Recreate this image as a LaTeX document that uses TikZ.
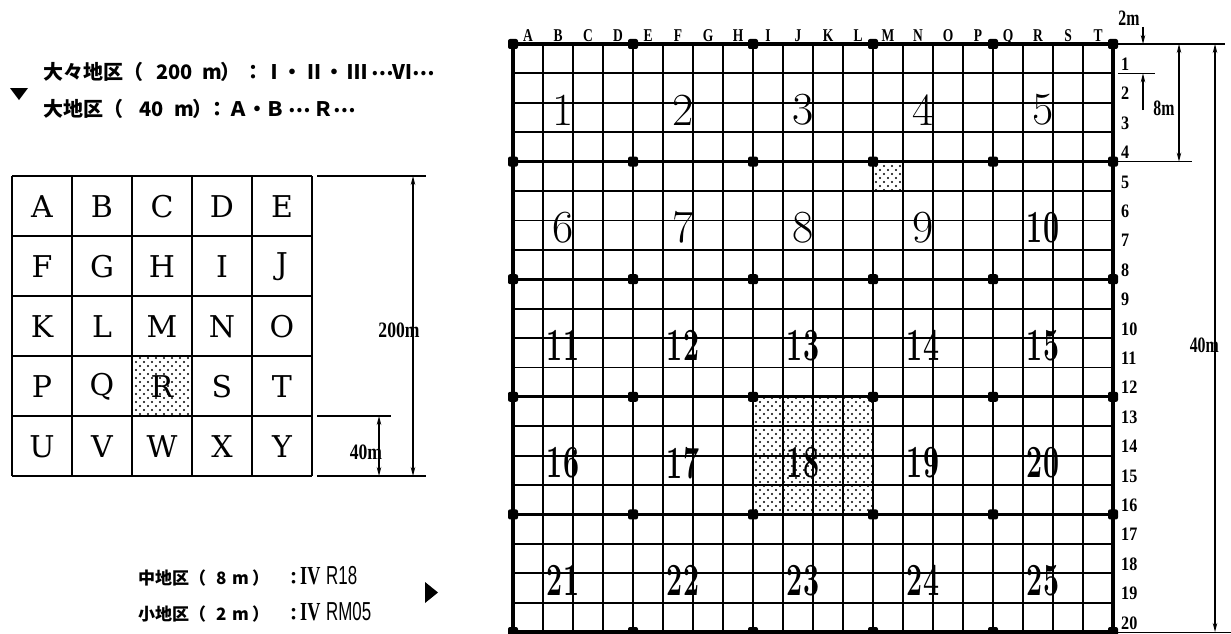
\documentclass[tikz,border=0pt]{standalone}
\usepackage{fontspec}
\usepackage{graphicx}
\newfontfamily\jp{Noto Sans CJK JP}
\newfontfamily\labf{Liberation Serif}
\newfontfamily\labs{Liberation Sans}
\newfontfamily\cent{DejaVu Serif}
\usetikzlibrary{arrows.meta,patterns.meta}
\newcommand\cnd[2][0.8]{\scalebox{#1}[1]{#2}}
\newcommand\jpdots{\makebox[12pt]{\raisebox{4pt}{…}}}
\tikzset{
 gminor/.style={line width=1.8pt},
 gmajor/.style={line width=2.8pt},
 gouter/.style={line width=4pt},
 lminor/.style={line width=2pt},
 dimline/.style={line width=1.1pt},
 dimarr/.style={dimline,{Stealth[length=9pt,width=4.5pt]}-{Stealth[length=9pt,width=4.5pt]}},
 onearr/.style={dimline,-{Stealth[length=9pt,width=4.5pt]}},
 colab/.style={inner sep=0pt,anchor=base,font=\labf\bfseries\fontsize{18}{18}\selectfont},
 rowlab/.style={inner sep=0pt,anchor=base west,font=\labf\bfseries\fontsize{19}{19}\selectfont},
 dimlab/.style={inner sep=0pt,font=\labf\bfseries\fontsize{22}{22}\selectfont},
 bignum/.style={inner sep=0pt,font=\fontsize{46}{46}\selectfont},
 bigletter/.style={inner sep=0pt,font=\cent\fontsize{30}{30}\selectfont},
 jpa/.style={inner sep=0pt,anchor=base west,font=\jp\bfseries\fontsize{20}{20}\selectfont},
 jpb/.style={inner sep=0pt,anchor=base west,font=\jp\bfseries\fontsize{17}{17}\selectfont},
 code/.style={inner sep=0pt,anchor=base west,font=\fontsize{26}{26}\selectfont},
 stipA/.style={pattern={Dots[distance=8pt,radius=1.1pt]}},
 stipB/.style={pattern={Dots[distance=8pt,radius=1.1pt,xshift=4pt,yshift=4pt]}},
 gdot/.style={fill=black,rounded corners=2pt},
}
\begin{document}
\begin{tikzpicture}[x=1pt,y=-1pt]
\useasboundingbox (0,0) rectangle (1231,634);
% ---------------- big grid -----------------
\fill[stipA] (752,396.8) rectangle (872,514.4);
\fill[stipB] (752,396.8) rectangle (872,514.4);
\fill[stipA] (873,161.6) rectangle (903,191);
\fill[stipB] (873,161.6) rectangle (903,191);
\foreach \i in {1,...,19}{
  \draw[gminor] (513+30*\i,44) -- (513+30*\i,632);
  \draw[gminor] (513,44+29.4*\i) -- (1113,44+29.4*\i);
}
\foreach \i in {1,...,4}{
  \draw[gmajor] (513+120*\i,44) -- (513+120*\i,632);
  \draw[gmajor] (513,44+117.6*\i) -- (1113,44+117.6*\i);
}
\draw[gouter] (513,44) rectangle (1113,632);
\foreach \i in {0,...,5}{
  \foreach \j in {0,...,5}{
    \fill[gdot] (513+120*\i-5,44+117.6*\j-5) rectangle (513+120*\i+5,44+117.6*\j+5);
  }
}
% column letters
\foreach \L [count=\i] in {A,B,C,D,E,F,G,H,I,J,K,L,M,N,O,P,Q,R,S,T}{
  \node[colab] (c\i) at (513+30*\i-15,42) {\cnd[0.75]{\L}};
}
% row numbers
\foreach \r in {1,...,20}{
  \node[rowlab] (r\r) at (1121,44+29.4*\r-3) {\cnd[0.85]{\r}};
}
% block numbers
\foreach \n in {1,...,25}{
  \pgfmathtruncatemacro\cc{mod(\n-1,5)}
  \pgfmathtruncatemacro\rr{(\n-1)/5}
  \ifnum\n<10
    \node[bignum] (b\n) at (513+120*\cc+50,44+117.6*\rr+66) {\n};
  \else
    \node[bignum] (b\n) at (513+120*\cc+50,44+117.6*\rr+66) {\cnd[0.62]{\bfseries\n}};
  \fi
}
% dimensions right
\draw[dimline] (1113,44) -- (1225,44);
\draw[dimline] (1118,73.4) -- (1155,73.4);
\draw[dimline] (1118,161.6) -- (1192,161.6);
\draw[dimline] (1118,632.5) -- (1231,632.5);
\coordinate (t2a) at (1143,27);
\coordinate (t2b) at (1143,44);
\coordinate (t2c) at (1143,110);
\coordinate (t2d) at (1143,73.4);
\draw[onearr] (t2a) -- (t2b);
\draw[onearr] (t2c) -- (t2d);
\node[dimlab] (l2m) at (1129,18) {\cnd[0.72]{2m}};
\coordinate (e8a) at (1179,44);
\coordinate (e8b) at (1179,161.6);
\draw[dimarr] (e8a) -- (e8b);
\node[dimlab] (l8m) at (1164,108) {\cnd[0.72]{8m}};
\coordinate (f40a) at (1215,44);
\coordinate (f40b) at (1215,632);
\draw[dimarr] (f40a) -- (f40b);
\node[dimlab,anchor=east] (l40r) at (1219,345) {\cnd[0.72]{40m}};
% ---------------- small grid -----------------
\fill[stipA] (132,356) rectangle (192,416);
\fill[stipB] (132,356) rectangle (192,416);
\foreach \i in {0,...,5}{
  \draw[lminor] (12+60*\i,176) -- (12+60*\i,476);
  \draw[lminor] (12,176+60*\i) -- (312,176+60*\i);
}
\foreach \L [count=\k from 0] in {A,B,C,D,E,F,G,H,I,J,K,L,M,N,O,P,Q,R,S,T,U,V,W,X,Y}{
  \pgfmathtruncatemacro\cc{mod(\k,5)}
  \pgfmathtruncatemacro\rr{\k/5}
  \node[bigletter] (s\k) at (42+60*\cc,207+60*\rr) {\L};
}
\draw[dimline] (317,176) -- (426,176);
\draw[dimline] (317,416) -- (391,416);
\draw[dimline] (317,476) -- (426,476);
\coordinate (g2a) at (413,176);
\coordinate (g2b) at (413,476);
\draw[dimarr] (g2a) -- (g2b);
\coordinate (g4a) at (379,416);
\coordinate (g4b) at (379,476);
\draw[dimarr] (g4a) -- (g4b);
\node[dimlab] (l200) at (399,330) {\cnd[0.8]{200m}};
\node[dimlab] (l40l) at (366,452) {\cnd[0.8]{40m}};
% ---------------- texts -----------------
\node[jpa] (ta1) at (43,79) {大々地区（};
\node[jpa] (ta2) at (156,79) {200};
\node[jpa] (ta3) at (202,79) {m};
\node[jpa] (ta4) at (220,79) {）};
\node[jpa] (ta5) at (243,79) {：};
\foreach \ch/\xx in {Ⅰ/274,・/292,Ⅱ/314,・/334,Ⅲ/357,Ⅵ/402}{
  \node[jpa,anchor=base] (ta\xx) at (\xx,79) {\ch};
}
\node[jpa,anchor=base] (tae1) at (383,79) {\jpdots};
\node[jpa,anchor=base] (tae2) at (424,79) {\jpdots};
\node[jpa] (tb1) at (43,116) {大地区（};
\node[jpa] (tb2) at (139,116) {40};
\node[jpa] (tb3) at (174,116) {m};
\node[jpa] (tb4) at (192,116) {）};
\node[jpa] (tb5) at (207,116) {：};
\foreach \ch/\xx in {Ａ/238,・/257,Ｂ/275,Ｒ/323}{
  \node[jpa,anchor=base] (tb\xx) at (\xx,116) {\ch};
}
\node[jpa,anchor=base] (tbe1) at (300,116) {\jpdots};
\node[jpa,anchor=base] (tbe2) at (345,116) {\jpdots};
\fill (10,88) -- (28,88) -- (19,100) -- cycle;
\node[jpb] (tc1) at (138,584) {中地区（};
\node[jpb] (tc2) at (216,584) {8};
\node[jpb] (tc3) at (232,584) {m};
\node[jpb] (tc4) at (252,584) {）};
\node[jpb] (tc5) at (285,584) {：};
\node[code] (tc6) at (300,584) {\cnd[0.7]{\labf\bfseries IV}};
\node[code] (tc7) at (326,584) {\cnd[0.65]{\labs R18}};
\node[jpb] (td1) at (138,620) {小地区（};
\node[jpb] (td2) at (216,620) {2};
\node[jpb] (td3) at (232,620) {m};
\node[jpb] (td4) at (252,620) {）};
\node[jpb] (td5) at (285,620) {：};
\node[code] (td6) at (300,620) {\cnd[0.7]{\labf\bfseries IV}};
\node[code] (td7) at (326,620) {\cnd[0.65]{\labs RM05}};
\fill (425,582) -- (438,592.5) -- (425,603) -- cycle;
\end{tikzpicture}
\end{document}
